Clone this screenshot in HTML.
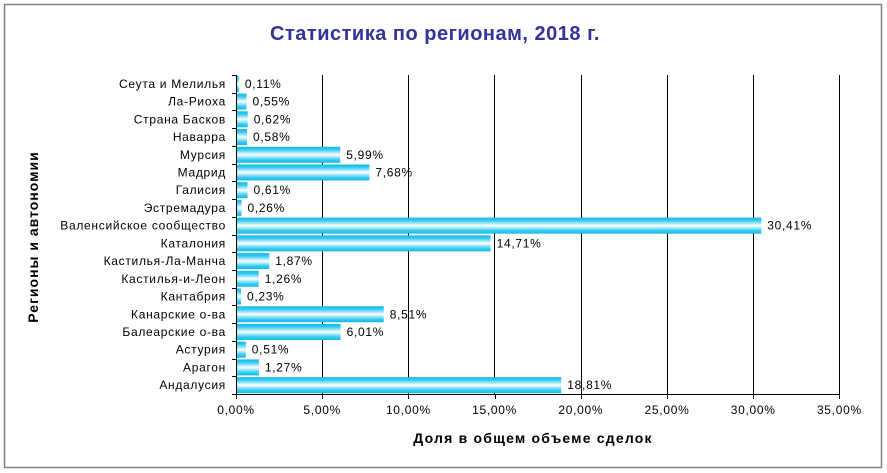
<!DOCTYPE html><html><head><meta charset="utf-8"><style>body{margin:0;background:#fff}svg{display:block}text{font-family:"Liberation Sans",sans-serif}</style></head><body>
<svg width="887" height="473" viewBox="0 0 887 473" xmlns="http://www.w3.org/2000/svg">
<defs><linearGradient id="g" x1="0" y1="0" x2="0" y2="1">
<stop offset="0" stop-color="#10b8e6"/><stop offset="0.2" stop-color="#3ccdf2"/><stop offset="0.5" stop-color="#ffffff"/><stop offset="0.8" stop-color="#3ccdf2"/><stop offset="1" stop-color="#10b8e6"/></linearGradient></defs>
<rect x="4.5" y="4.5" width="877" height="463" fill="#fff" stroke="#808080" stroke-width="1.5"/>
<text x="435" y="40" text-anchor="middle" font-size="20" font-weight="bold" letter-spacing="0.5" fill="#333399">Статистика по регионам, 2018 г.</text>
<g stroke="#000" stroke-width="1">
<line x1="322.5" y1="75" x2="322.5" y2="394"/><line x1="408.5" y1="75" x2="408.5" y2="394"/><line x1="494.5" y1="75" x2="494.5" y2="394"/><line x1="581.5" y1="75" x2="581.5" y2="394"/><line x1="667.5" y1="75" x2="667.5" y2="394"/><line x1="753.5" y1="75" x2="753.5" y2="394"/><line x1="839.5" y1="75" x2="839.5" y2="394"/>
</g>
<g id="bars"></g>
<g stroke="#000" stroke-width="1">
<line x1="236.5" y1="75" x2="236.5" y2="394"/><line x1="236" y1="394.5" x2="840" y2="394.5"/>
</g>
<g id="ticks" stroke="#000"></g>
<g id="lbl" font-size="12" letter-spacing="0.7" fill="#000"></g>
<text x="533" y="443" text-anchor="middle" font-size="14" font-weight="bold" letter-spacing="1.2">Доля в общем объеме сделок</text>
<text transform="translate(38,237) rotate(-90)" text-anchor="middle" font-size="14" font-weight="bold" letter-spacing="1">Регионы и автономии</text>
<script>
var cats=["Сеута и Мелилья","Ла-Риоха","Страна Басков","Наварра","Мурсия","Мадрид","Галисия","Эстремадура","Валенсийское сообщество","Каталония","Кастилья-Ла-Манча","Кастилья-и-Леон","Кантабрия","Канарские о-ва","Балеарские о-ва","Астурия","Арагон","Андалусия"];
var v=[0.11,0.55,0.62,0.58,5.99,7.68,0.61,0.26,30.41,14.71,1.87,1.26,0.23,8.51,6.01,0.51,1.27,18.81];
var ns="http://www.w3.org/2000/svg",b=document.getElementById("bars"),t=document.getElementById("ticks"),l=document.getElementById("lbl");
var h=319/18;
function el(p,n,a,tx){var e=document.createElementNS(ns,n);for(var k in a)e.setAttribute(k,a[k]);if(tx)e.textContent=tx;p.appendChild(e);}
for(var i=0;i<18;i++){var c=75+h*(i+0.5);var w=v[i]*17.24;
el(b,"rect",{x:237,y:c-8,width:w,height:16,fill:"url(#g)"});
el(t,"line",{x1:232,x2:237,y1:Math.round(75+h*i)+.5,y2:Math.round(75+h*i)+.5});
el(l,"text",{x:226,y:c+4,"text-anchor":"end"},cats[i]);
el(l,"text",{x:237+w+6,y:c+4},v[i].toFixed(2).replace(".",",")+"%");}
el(t,"line",{x1:232,x2:237,y1:394.5,y2:394.5});
for(var j=0;j<=7;j++){var x=236+j*86.2;el(t,"line",{x1:Math.round(x)+.5,x2:Math.round(x)+.5,y1:394,y2:399});
el(l,"text",{x:x,y:414,"text-anchor":"middle"},(j*5).toFixed(2).replace(".",",")+"%");}
</script>
</svg></body></html>
